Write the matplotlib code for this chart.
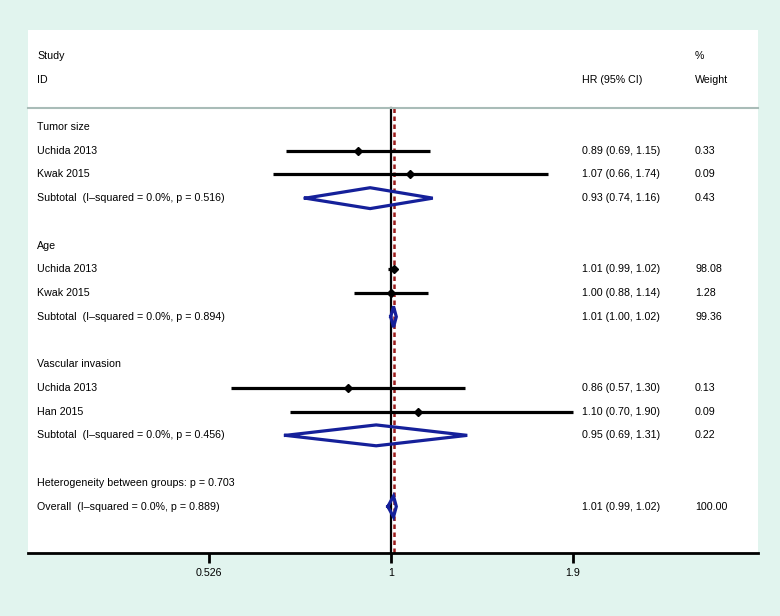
import matplotlib
matplotlib.use("Agg")
import matplotlib.pyplot as plt
import matplotlib.transforms as mtransforms
import numpy as np

plt.rcParams['font.family'] = ['Liberation Sans', 'DejaVu Sans']

# ---- data ----
groups = ["Tumor size", "Age", "Vascular invasion"]
studies = [["Uchida 2013", "Kwak 2015"],
           ["Uchida 2013", "Kwak 2015"],
           ["Uchida 2013", "Han 2015"]]
hr = [[0.89, 1.07], [1.01, 1.00], [0.86, 1.10]]
lo = [[0.69, 0.66], [0.99, 0.88], [0.57, 0.70]]
hi = [[1.15, 1.74], [1.02, 1.14], [1.30, 1.90]]
wt = [[0.33, 0.09], [98.08, 1.28], [0.13, 0.09]]
sub_hr = [0.93, 1.01, 0.95]
sub_lo = [0.74, 1.00, 0.69]
sub_hi = [1.16, 1.02, 1.31]
sub_wt = [0.43, 99.36, 0.22]
sub_i2 = [0.0, 0.0, 0.0]
sub_p = [0.516, 0.894, 0.456]
het_p = 0.703
ov_hr, ov_lo, ov_hi, ov_wt = 1.01, 0.99, 1.02, 100.00
ov_i2, ov_p = 0.0, 0.889
xticks = [0.526, 1, 1.9]
xticklabels = ["0.526", "1", "1.9"]

# ---- figure ----
W, H = 780, 616
fig = plt.figure(figsize=(W / 100, H / 100), dpi=100, facecolor='#e1f4ee')
left_px, right_px, top_px, bot_px = 28, 758, 30, 553
ax = fig.add_axes([left_px / W, (H - bot_px) / H,
                   (right_px - left_px) / W, (bot_px - top_px) / H])
ax.set_facecolor('white')
ax.set_xscale('log')

x0_px, ppl = 390.7, 283.5  # pixel of x=1, pixels per ln unit
ax.set_xlim(np.exp((left_px - x0_px) / ppl), np.exp((right_px - x0_px) / ppl))
row_h = 23.72
y_top = (top_px - 127) / row_h
y_bot = (bot_px - 127) / row_h
ax.set_ylim(y_bot, y_top)

trans = mtransforms.blended_transform_factory(ax.transAxes, ax.transData)
fs = 7.7
span = right_px - left_px
xl, xc, xw = (37 - left_px) / span, (582 - left_px) / span, (695 - left_px) / span

def txt(x, y, s):
    ax.text(x, y, s, transform=trans, fontsize=fs, va='center', ha='left', color='black')

# header
txt(xl, -3, "Study")
txt(xl, -2, "ID")
txt(xc, -2, "HR (95% CI)")
txt(xw, -3, "%")
txt(xw, -2, "Weight")
sep_y = -0.8
ax.plot([0, 1], [sep_y, sep_y], transform=trans, color='#a9bcb8', lw=1.5, clip_on=False)

navy = '#15209a'
dh = 0.44

def diamond(y, c, l, h):
    ax.plot([l, c, h, c, l], [y, y - dh, y, y + dh, y], color=navy, lw=2.3, solid_joinstyle='miter')

row = 0
for g in range(3):
    txt(xl, row, groups[g])
    row += 1
    for k in range(2):
        txt(xl, row, studies[g][k])
        ax.plot([lo[g][k], hi[g][k]], [row, row], color='black', lw=2.3, solid_capstyle='butt')
        ax.plot([hr[g][k]], [row], marker='D', color='black', ms=4.5)
        txt(xc, row, f"{hr[g][k]:.2f} ({lo[g][k]:.2f}, {hi[g][k]:.2f})")
        txt(xw, row, f"{wt[g][k]:.2f}")
        row += 1
    txt(xl, row, f"Subtotal  (I\u2013squared = {sub_i2[g]:.1f}%, p = {sub_p[g]:.3f})")
    diamond(row, sub_hr[g], sub_lo[g], sub_hi[g])
    txt(xc, row, f"{sub_hr[g]:.2f} ({sub_lo[g]:.2f}, {sub_hi[g]:.2f})")
    txt(xw, row, f"{sub_wt[g]:.2f}")
    row += 2

txt(xl, row, f"Heterogeneity between groups: p = {het_p:.3f}")
row += 1
txt(xl, row, f"Overall  (I\u2013squared = {ov_i2:.1f}%, p = {ov_p:.3f})")
diamond(row, ov_hr, ov_lo, ov_hi)
txt(xc, row, f"{ov_hr:.2f} ({ov_lo:.2f}, {ov_hi:.2f})")
txt(xw, row, f"{ov_wt:.2f}")

# reference lines
ax.plot([1, 1], [sep_y, y_bot], color='black', lw=1.6, zorder=1)
ax.plot([ov_hr, ov_hr], [sep_y, y_bot], color='#9b1c1c', lw=1.8, ls=(0, (1.8, 1.4)), zorder=1)

# axes styling
for s in ['top', 'left', 'right']:
    ax.spines[s].set_visible(False)
ax.spines['bottom'].set_linewidth(2)
ax.set_yticks([])
ax.set_xticks(xticks)
ax.set_xticklabels(xticklabels, fontsize=fs)
ax.xaxis.set_minor_locator(matplotlib.ticker.NullLocator())
ax.tick_params(axis='x', direction='out', length=7, width=2, pad=4)

fig.savefig("out.png", dpi=100, facecolor=fig.get_facecolor())
